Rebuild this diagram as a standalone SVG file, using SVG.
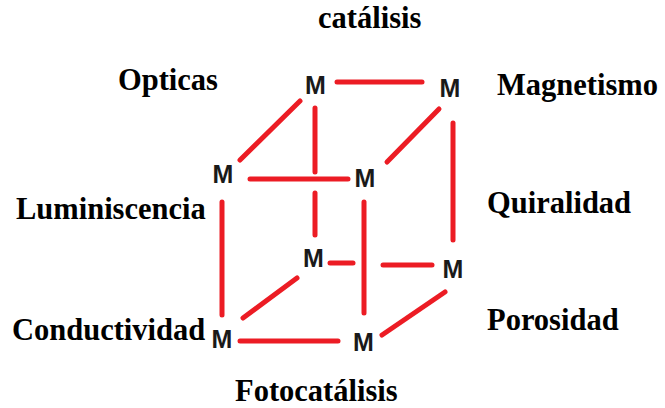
<svg xmlns="http://www.w3.org/2000/svg" width="665" height="408" viewBox="0 0 665 408">
<style>
.lbl{font-family:"Liberation Serif","Times New Roman",serif;font-weight:bold;font-size:30.5px;fill:#000}
.m{font-family:"Liberation Sans",Arial,sans-serif;font-weight:bold;font-size:25px;fill:#1a1a1a;text-anchor:middle}
.e{stroke:#ec1c24;stroke-width:5;stroke-linecap:round;fill:none}
</style>
<rect width="665" height="408" fill="#fff"/>
<g id="connectors">
<line class="e" x1="337" y1="82" x2="422" y2="82"/>
<line class="e" x1="300" y1="101" x2="240" y2="160"/>
<line class="e" x1="315" y1="108" x2="315" y2="172"/>
<line class="e" x1="315" y1="193" x2="315" y2="235"/>
<line class="e" x1="250" y1="179" x2="348" y2="179"/>
<line class="e" x1="439" y1="109" x2="387" y2="162"/>
<line class="e" x1="453" y1="123" x2="453" y2="240"/>
<line class="e" x1="222" y1="202" x2="222" y2="315"/>
<line class="e" x1="364" y1="202" x2="364" y2="313"/>
<line class="e" x1="330" y1="263" x2="353" y2="263"/>
<line class="e" x1="383" y1="265" x2="432" y2="265"/>
<line class="e" x1="297" y1="278" x2="243" y2="318"/>
<line class="e" x1="240" y1="341" x2="338" y2="341"/>
<line class="e" x1="445" y1="292" x2="382" y2="335"/>
</g>
<g id="m-top-back-left"><text class="m" x="315.5" y="94">M</text></g>
<g id="m-top-back-right"><text class="m" x="450" y="97">M</text></g>
<g id="m-top-front-left"><text class="m" x="223" y="183">M</text></g>
<g id="m-top-front-right"><text class="m" x="365" y="187">M</text></g>
<g id="m-bottom-back-left"><text class="m" x="313.5" y="267">M</text></g>
<g id="m-bottom-back-right"><text class="m" x="453" y="278">M</text></g>
<g id="m-bottom-front-left"><text class="m" x="222" y="348">M</text></g>
<g id="m-bottom-front-right"><text class="m" x="363.5" y="351">M</text></g>
<g id="labels">
<text class="lbl" x="318" y="28">catálisis</text>
<text class="lbl" x="118" y="90">Opticas</text>
<text class="lbl" x="497" y="95">Magnetismo</text>
<text class="lbl" x="16" y="219">Luminiscencia</text>
<text class="lbl" x="487" y="213">Quiralidad</text>
<text class="lbl" x="12" y="340">Conductividad</text>
<text class="lbl" x="487" y="330">Porosidad</text>
<text class="lbl" x="235" y="401">Fotocatálisis</text>
</g>
</svg>
